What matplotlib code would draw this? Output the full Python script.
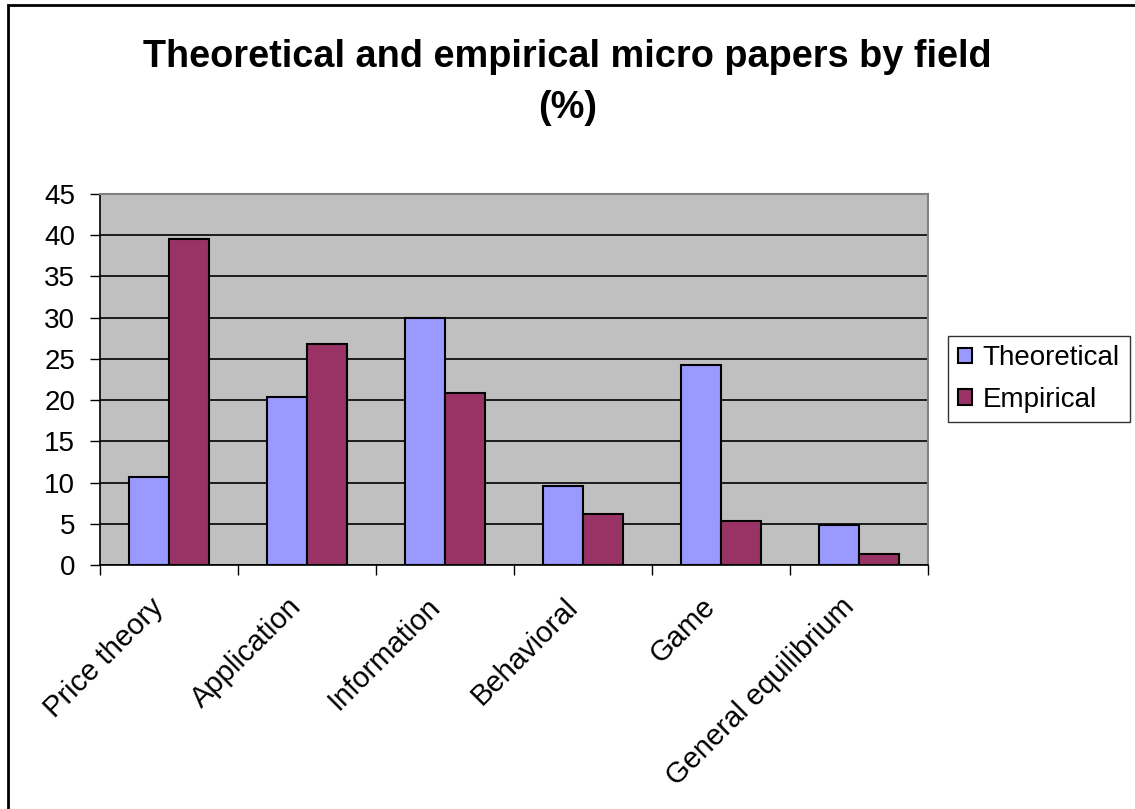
import numpy as np
import matplotlib.pyplot as plt
from matplotlib.patches import Rectangle

plt.rcParams['font.family'] = ['Liberation Sans', 'DejaVu Sans']

fields = ['Price theory', 'Application', 'Information', 'Behavioral', 'Game',
          'General equilibrium']
theoretical = [10.7, 20.4, 30.0, 9.6, 24.3, 4.8]
empirical = [39.5, 26.8, 20.9, 6.2, 5.3, 1.3]
y_ticks = np.arange(0, 50, 5)

fig = plt.figure(figsize=(11.35, 8.09), dpi=100)
ax = fig.add_axes([100 / 1135, 1 - 565 / 809, 828 / 1135, 371 / 809])
ax.set_facecolor('#C0C0C0')

x = np.arange(len(fields))
w = 0.29
ax.bar(x - w / 2, theoretical, w, color='#9999FF', edgecolor='black', linewidth=1.5,
       label='Theoretical', zorder=3)
ax.bar(x + w / 2, empirical, w, color='#993366', edgecolor='black', linewidth=1.5,
       label='Empirical', zorder=3)

ax.set_xlim(-0.5, len(fields) - 0.5)
ax.set_ylim(0, 45)
ax.set_yticks(y_ticks)
ax.set_yticklabels([str(v) for v in y_ticks], fontsize=20)
ax.yaxis.grid(True, color='black', linewidth=1.2, zorder=1)
ax.set_axisbelow(True)

# labels sit a little left of the group centre, like Excel's rotated labels
ax.set_xticks(x - 0.07)
ax.set_xticklabels(fields, fontsize=21, rotation=45, ha='right', va='center',
                   rotation_mode='anchor')
ax.set_xticks(np.arange(-0.5, len(fields)), minor=True)
ax.tick_params(axis='x', which='major', length=0, pad=27)
ax.tick_params(axis='x', which='minor', length=7, width=1, color='black')
ax.tick_params(axis='y', length=7, width=1, pad=11)

for side in ['top', 'right']:
    ax.spines[side].set_color('#808080')
    ax.spines[side].set_linewidth(1.5)
ax.spines['left'].set_linewidth(1.2)
ax.spines['bottom'].set_linewidth(1.2)

leg = ax.legend(loc='center left', bbox_to_anchor=(948 / 1135, 1 - 379 / 809),
                bbox_transform=fig.transFigure, fontsize=20, frameon=True,
                fancybox=False, edgecolor='black', handlelength=0.5,
                handleheight=0.5, handletextpad=0.4, borderpad=0.35,
                labelspacing=0.55, borderaxespad=0)
leg.get_frame().set_linewidth(1.0)

fig.text(0.5, 1 - 57 / 809, 'Theoretical and empirical micro papers by field',
         ha='center', va='center', fontsize=27.3, fontweight='bold')
fig.text(0.5, 1 - 108 / 809, '(%)', ha='center', va='center', fontsize=27.3,
         fontweight='bold')

fig.patches.append(Rectangle((7.5 / 1135, -0.1), 1.2, 1 - 4.5 / 809 + 0.1,
                             transform=fig.transFigure, fill=False,
                             edgecolor='black', linewidth=2))

fig.savefig('out.png', dpi=100)
